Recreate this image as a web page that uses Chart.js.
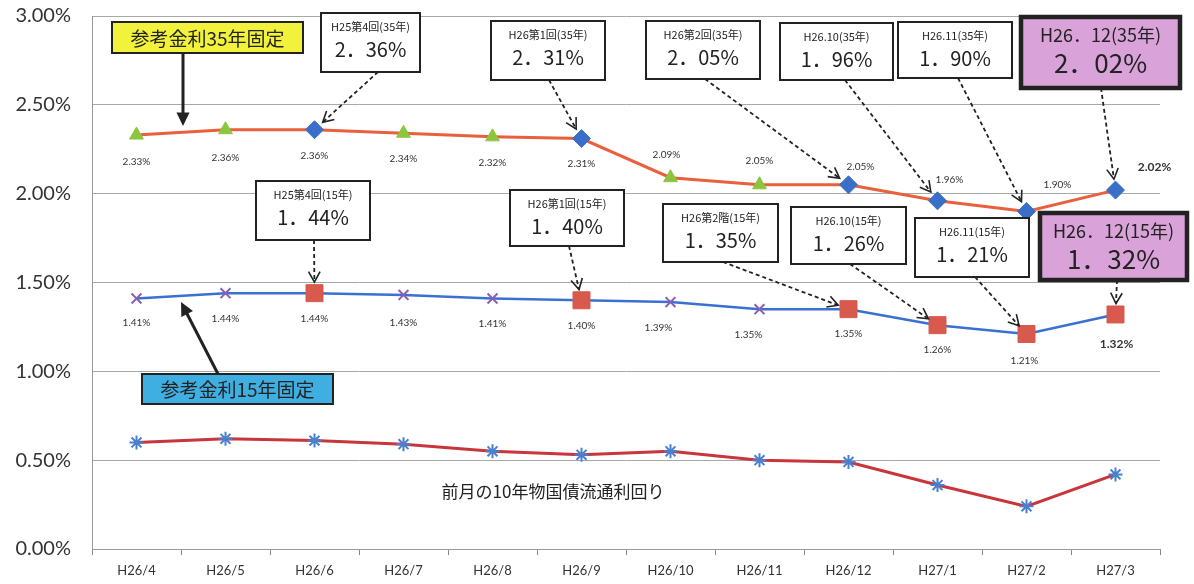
<!DOCTYPE html>
<html>
<head>
<meta charset="utf-8">
<script src="https://cdn.jsdelivr.net/npm/chart.js@4/dist/chart.umd.min.js"></script>
<style>
  html, body { margin: 0; padding: 0; background: #fff; }
</style>
</head>
<body>
<canvas id="myChart" width="1194" height="584"></canvas>
<script>
// 月（カテゴリ）
const months = ['H26/4', 'H26/5', 'H26/6', 'H26/7', 'H26/8', 'H26/9', 'H26/10', 'H26/11', 'H26/12', 'H27/1', 'H27/2', 'H27/3'];
// 参考金利35年固定
const rate35 = [2.33, 2.36, 2.36, 2.34, 2.32, 2.31, 2.09, 2.05, 2.05, 1.96, 1.90, 2.02];
// 参考金利15年固定
const rate15 = [1.41, 1.44, 1.44, 1.43, 1.41, 1.40, 1.39, 1.35, 1.35, 1.26, 1.21, 1.32];
// 前月の10年物国債流通利回り
const jgb10 = [0.60, 0.62, 0.61, 0.59, 0.55, 0.53, 0.55, 0.50, 0.49, 0.36, 0.24, 0.42];
// 公表回（マーカーを変える月）
const announced = [false, false, true, false, false, true, false, false, true, true, true, true];
// y軸目盛
const yTicks = [0, 0.5, 1.0, 1.5, 2.0, 2.5, 3.0];

const NUM_FONT = 'Lato, "Liberation Sans", sans-serif';
const JP_FONT = '"Noto Sans CJK JP", sans-serif';

// データラベルの位置ずれ (dx, dy)
const label35Offset = [[0,27],[0,28],[0,26],[0,26],[0,26],[0,25],[-4,-23],[0,-24],[12,-18],[12,-21],[31,-27],[39,-23]];
const label15Offset = [[0,24],[0,26],[0,26],[0,28],[0,25],[0,26],[-12,26],[-11,26],[0,25],[0,25],[-2,27],[1,30]];

// 吹き出し
const callouts = [
  { ds: 0, idx: 2,  box: [321, 13, 99, 59],   title: 'H25第4回(35年)', value: '2．36%', from: [378, 72] },
  { ds: 0, idx: 5,  box: [491, 21, 114, 59],  title: 'H26第1回(35年)', value: '2．31%', from: [549, 80] },
  { ds: 0, idx: 8,  box: [646, 21, 114, 58],  title: 'H26第2回(35年)', value: '2．05%', from: [705, 79] },
  { ds: 0, idx: 9,  box: [780, 23, 113, 57],  title: 'H26.10(35年)',   value: '1．96%', from: [845, 80] },
  { ds: 0, idx: 10, box: [898, 22, 114, 56],  title: 'H26.11(35年)',   value: '1．90%', from: [958, 78] },
  { ds: 0, idx: 11, box: [1021, 17, 159, 71], title: 'H26．12(35年)',  value: '2．02%', from: [1101, 88], big: true },
  { ds: 1, idx: 2,  box: [256, 181, 114, 59], title: 'H25第4回(15年)', value: '1．44%', from: [314, 240] },
  { ds: 1, idx: 5,  box: [510, 190, 114, 56], title: 'H26第1回(15年)', value: '1．40%', from: [569, 246] },
  { ds: 1, idx: 8,  box: [663, 204, 115, 58], title: 'H26第2階(15年)', value: '1．35%', from: [723, 262] },
  { ds: 1, idx: 9,  box: [791, 207, 115, 57], title: 'H26.10(15年)',   value: '1．26%', from: [850, 264] },
  { ds: 1, idx: 10, box: [915, 218, 114, 59], title: 'H26.11(15年)',   value: '1．21%', from: [975, 277] },
  { ds: 1, idx: 11, box: [1040, 213, 147, 67], title: 'H26．12(15年)', value: '1．32%', from: [1117, 280], big: true }
];

function drawHead(ctx, x1, y1, x2, y2, len, filled) {
  const a = Math.atan2(y2 - y1, x2 - x1);
  const s = filled ? 0.45 : 0.5;
  ctx.beginPath();
  ctx.moveTo(x2 - len * Math.cos(a - s), y2 - len * Math.sin(a - s));
  ctx.lineTo(x2, y2);
  ctx.lineTo(x2 - len * Math.cos(a + s), y2 - len * Math.sin(a + s));
  if (filled) { ctx.closePath(); ctx.fill(); } else { ctx.stroke(); }
}

const annotatePlugin = {
  id: 'annotate',
  afterDatasetsDraw(chart) {
    const ctx = chart.ctx;
    ctx.save();
    ctx.fillStyle = '#333';
    ctx.textAlign = 'center';
    ctx.textBaseline = 'middle';
    [[0, rate35, label35Offset], [1, rate15, label15Offset]].forEach(([d, vals, offs]) => {
      const pts = chart.getDatasetMeta(d).data;
      vals.forEach((v, i) => {
        const last = i === vals.length - 1;
        ctx.font = last ? 'bold 12px ' + NUM_FONT : '10px ' + NUM_FONT;
        ctx.fillText(v.toFixed(2) + '%', pts[i].x + offs[i][0], pts[i].y + offs[i][1]);
      });
    });
    ctx.restore();
  },
  afterDraw(chart) {
    const ctx = chart.ctx;
    ctx.save();

    // 吹き出し
    callouts.forEach(c => {
      const p = chart.getDatasetMeta(c.ds).data[c.idx];
      const [fx, fy] = c.from;
      const dx = fx - p.x, dy = fy - p.y, d = Math.hypot(dx, dy);
      const tx = p.x + dx / d * 11, ty = p.y + dy / d * 11;
      ctx.strokeStyle = '#222';
      ctx.lineWidth = 1.8;
      ctx.setLineDash([4, 3]);
      ctx.beginPath();
      ctx.moveTo(fx, fy);
      ctx.lineTo(tx, ty);
      ctx.stroke();
      ctx.setLineDash([]);
      ctx.lineWidth = 1.6;
      drawHead(ctx, fx, fy, tx, ty, 12, false);

      const [bx, by, bw, bh] = c.box;
      ctx.fillStyle = c.big ? '#D9A3D9' : '#fff';
      ctx.fillRect(bx, by, bw, bh);
      ctx.lineWidth = c.big ? 4.5 : 2;
      ctx.strokeStyle = '#222';
      ctx.strokeRect(bx, by, bw, bh);
      ctx.fillStyle = '#222';
      ctx.textAlign = 'center';
      ctx.textBaseline = 'middle';
      if (c.big) {
        ctx.font = '18px ' + JP_FONT;
        ctx.fillText(c.title, bx + bw / 2, by + 18, bw - 8);
        ctx.font = '26px ' + JP_FONT;
        ctx.fillText(c.value, bx + bw / 2, by + 46);
      } else {
        ctx.font = '11px ' + JP_FONT;
        ctx.fillText(c.title, bx + bw / 2, by + 14, bw - 12);
        ctx.font = '20px ' + JP_FONT;
        ctx.fillText(c.value, bx + bw / 2, by + 36);
      }
    });

    // 系列名の札と矢印
    const tags = [
      { box: [112, 22, 191, 31], fill: '#F2F23C', text: '参考金利35年固定', from: [183, 53], to: [183, 126] },
      { box: [142, 374, 191, 30], fill: '#3FAEE0', text: '参考金利15年固定', from: [218, 374], to: [181, 302] }
    ];
    tags.forEach(t => {
      ctx.strokeStyle = '#222';
      ctx.fillStyle = '#222';
      ctx.lineWidth = 3;
      ctx.beginPath();
      ctx.moveTo(t.from[0], t.from[1]);
      ctx.lineTo(t.to[0] - (t.to[0] - t.from[0]) * 0.1, t.to[1] - (t.to[1] - t.from[1]) * 0.1);
      ctx.stroke();
      drawHead(ctx, t.from[0], t.from[1], t.to[0], t.to[1], 15, true);
      const [bx, by, bw, bh] = t.box;
      ctx.fillStyle = t.fill;
      ctx.fillRect(bx, by, bw, bh);
      ctx.lineWidth = 2;
      ctx.strokeRect(bx, by, bw, bh);
      ctx.fillStyle = '#222';
      ctx.font = '19px ' + JP_FONT;
      ctx.textAlign = 'center';
      ctx.textBaseline = 'middle';
      ctx.fillText(t.text, bx + bw / 2, by + bh / 2 + 1);
    });

    ctx.font = '17px ' + JP_FONT;
    ctx.fillStyle = '#222';
    ctx.fillText('前月の10年物国債流通利回り', 553, 492);
    ctx.restore();
  }
};

const ctx = document.getElementById('myChart').getContext('2d');
new Chart(ctx, {
  type: 'line',
  data: {
    labels: months,
    datasets: [
      {
        label: '参考金利35年固定',
        data: rate35,
        borderColor: '#E8603C',
        borderWidth: 3,
        tension: 0,
        pointStyle: announced.map(a => a ? 'rectRot' : 'triangle'),
        pointRadius: announced.map(a => a ? 9 : 8),
        pointBackgroundColor: announced.map(a => a ? '#3A6FC8' : '#8CC63F'),
        pointBorderColor: announced.map(a => a ? '#3A6FC8' : '#8CC63F'),
        pointBorderWidth: 1
      },
      {
        label: '参考金利15年固定',
        data: rate15,
        borderColor: '#3A70D2',
        borderWidth: 2.5,
        tension: 0,
        pointStyle: announced.map(a => a ? 'rect' : 'crossRot'),
        pointRadius: announced.map(a => a ? 12 : 7),
        pointBackgroundColor: announced.map(a => a ? '#D85A4C' : '#8A5FB0'),
        pointBorderColor: announced.map(a => a ? '#D85A4C' : '#8A5FB0'),
        pointBorderWidth: announced.map(a => a ? 1 : 2)
      },
      {
        label: '前月の10年物国債流通利回り',
        data: jgb10,
        borderColor: '#C8353A',
        borderWidth: 3,
        tension: 0,
        pointStyle: 'star',
        pointRadius: 7,
        pointBorderColor: '#4A80D0',
        pointBackgroundColor: '#4A80D0',
        pointBorderWidth: 2
      }
    ]
  },
  options: {
    responsive: false,
    animation: false,
    layout: { padding: { top: 16, right: 34, left: 0, bottom: 0 } },
    plugins: {
      legend: { display: false },
      tooltip: { enabled: false }
    },
    scales: {
      x: {
        offset: true,
        grid: { offset: true, drawOnChartArea: false, tickLength: 6, color: '#888' },
        border: { color: '#999' },
        ticks: { font: { size: 13, family: NUM_FONT }, color: '#333', padding: 8, maxRotation: 0 },
        afterFit(scale) { scale.height = 35; }
      },
      y: {
        min: 0,
        max: 3,
        afterBuildTicks(scale) { scale.ticks = yTicks.map(v => ({ value: v })); },
        grid: { color: '#a8a8a8', drawTicks: true, tickLength: 19, tickColor: 'rgba(0,0,0,0)' },
        border: { color: '#999' },
        ticks: {
          font: { size: 20, family: NUM_FONT },
          color: '#333',
          padding: 2,
          callback: v => v.toFixed(2) + '%'
        },
        afterFit(scale) { scale.width = 92; }
      }
    }
  },
  plugins: [annotatePlugin]
});
</script>
</body>
</html>
